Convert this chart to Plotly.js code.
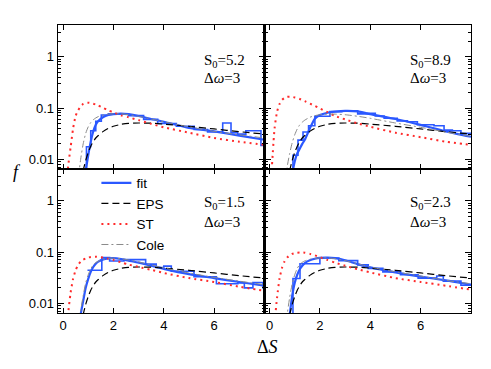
<!DOCTYPE html>
<html>
<head>
<meta charset="utf-8">
<script src="https://cdn.plot.ly/plotly-3.0.1.min.js"></script>
<style>html,body{margin:0;padding:0;background:#fff;}#chart{width:491px;height:369px;}</style>
</head>
<body>
<div id="chart"></div>
<script>
// ---- data ----
const dS = [0.1,0.2,0.3,0.4,0.5,0.6,0.7,0.8,0.9,1.0,1.1,1.2,1.3,1.4,1.6,1.8,2.0,2.3,2.6,3.0,3.5,4.0,5.0,6.0,7.0,8.0];

// EPS curve (same shape in every panel, Δω=3)
const epsVals = [0.0001,0.0001,0.0001,0.0001,0.0003,0.0014,0.0033,0.006,0.0095,0.0135,0.018,0.022,0.026,0.029,0.035,0.040,0.044,0.048,0.050,0.051,0.0505,0.0485,0.0440,0.0390,0.0345,0.0310];

// panel S0=5.2
const fitA  = [0.0001,0.0001,0.0001,0.0002,0.0004,0.0008,0.0015,0.003,0.006,0.012,0.022,0.035,0.047,0.056,0.067,0.073,0.076,0.078,0.076,0.070,0.061,0.054,0.041,0.035,0.029,0.024];
const stA   = [0.001,0.007,0.017,0.040,0.070,0.090,0.108,0.120,0.126,0.127,0.125,0.121,0.117,0.112,0.100,0.090,0.082,0.072,0.066,0.058,0.049,0.042,0.033,0.026,0.022,0.019];
const coleA = [0.0001,0.0001,0.0001,0.0002,0.0006,0.004,0.010,0.020,0.032,0.043,0.052,0.059,0.064,0.068,0.073,0.076,0.077,0.077,0.074,0.069,0.061,0.054,0.043,0.035,0.030,0.026];
const histEdgesA = [0.93,0.93,1.10,1.30,1.52,1.80,2.60,3.20,3.76,4.50,5.21,5.74,6.34,6.67,6.93,7.26,7.86,8.0];
const histValsA  = [0.001,0.0176,0.036,0.055,0.073,0.077,0.071,0.060,0.050,0.044,0.038,0.034,0.051,0.033,0.031,0.036,0.0185,0.0185];

// panel S0=8.9
const fitB  = [0.0001,0.0001,0.0001,0.0001,0.0002,0.0004,0.0009,0.002,0.005,0.009,0.013,0.016,0.020,0.024,0.040,0.062,0.073,0.081,0.085,0.088,0.086,0.076,0.061,0.047,0.035,0.0275];
const stB   = [0.008,0.040,0.085,0.120,0.145,0.158,0.165,0.166,0.165,0.161,0.157,0.150,0.143,0.136,0.122,0.110,0.098,0.083,0.070,0.060,0.050,0.043,0.033,0.027,0.022,0.019];
const coleB = [0.0001,0.0001,0.0001,0.0001,0.0003,0.002,0.007,0.013,0.021,0.030,0.039,0.047,0.053,0.058,0.066,0.071,0.074,0.076,0.076,0.074,0.069,0.063,0.051,0.042,0.034,0.028];
const histEdgesB = [0.93,0.93,1.13,1.33,1.55,1.80,2.40,2.87,3.50,3.90,4.20,4.55,5.07,5.47,5.87,6.53,6.93,7.26,7.60,8.0];
const histValsB  = [0.001,0.012,0.0236,0.034,0.045,0.069,0.085,0.088,0.077,0.079,0.070,0.063,0.056,0.054,0.047,0.045,0.037,0.036,0.032,0.032];

// panel S0=1.5
const fitC  = [0.0001,0.0001,0.0001,0.0002,0.0006,0.0015,0.006,0.011,0.020,0.030,0.041,0.051,0.059,0.065,0.072,0.075,0.076,0.073,0.068,0.062,0.054,0.047,0.037,0.031,0.026,0.022];
const stC   = [0.0005,0.006,0.016,0.030,0.044,0.056,0.065,0.071,0.075,0.078,0.080,0.081,0.081,0.080,0.078,0.074,0.070,0.063,0.057,0.051,0.045,0.039,0.031,0.026,0.021,0.0175];
const coleC = [0.0001,0.0001,0.0001,0.0002,0.0006,0.002,0.007,0.014,0.025,0.036,0.047,0.056,0.062,0.066,0.072,0.075,0.076,0.074,0.070,0.064,0.056,0.049,0.039,0.032,0.027,0.023];
const histEdgesC = [0.97,1.54,1.85,2.42,3.28,3.70,4.00,4.30,5.20,6.09,6.94,7.20,7.54,7.94,8.0];
const histValsC  = [0.044,0.078,0.067,0.071,0.058,0.050,0.053,0.042,0.033,0.024,0.025,0.020,0.0255,0.020,0.020];

// panel S0=2.3
const fitD  = [0.0001,0.0001,0.0001,0.0002,0.0005,0.0012,0.003,0.006,0.014,0.025,0.036,0.046,0.054,0.061,0.069,0.074,0.077,0.078,0.076,0.069,0.058,0.050,0.040,0.033,0.028,0.023];
const stD   = [0.0005,0.004,0.013,0.031,0.050,0.066,0.078,0.086,0.092,0.095,0.097,0.098,0.098,0.097,0.092,0.086,0.079,0.070,0.062,0.054,0.046,0.040,0.031,0.026,0.022,0.0184];
const coleD = [0.0001,0.0001,0.0001,0.0002,0.0006,0.002,0.006,0.013,0.024,0.036,0.048,0.057,0.063,0.067,0.072,0.075,0.077,0.077,0.074,0.068,0.059,0.051,0.041,0.034,0.028,0.024];
const histEdgesD = [0.93,0.93,1.21,2.00,2.75,3.50,3.92,4.50,5.20,5.90,6.64,6.90,7.60,8.0];
const histValsD  = [0.001,0.0305,0.059,0.0766,0.068,0.056,0.048,0.041,0.036,0.031,0.034,0.027,0.0225,0.0225];

const panelLabels = ['S<sub>0</sub>=5.2','S<sub>0</sub>=8.9','S<sub>0</sub>=1.5','S<sub>0</sub>=2.3'];
const dwLabel = 'Δ<i>ω</i>=3';
const yTickVals = [0.01,0.1,1];
const yTickText = ['0.01','0.1','1'];
const xTickVals = [0,2,4,6];

// ---- styles ----
const BLUE = '#2b58ff';
const panels = [
  {fit:fitA, st:stA, cole:coleA, he:histEdgesA, hv:histValsA, xa:'x',  ya:'y'},
  {fit:fitB, st:stB, cole:coleB, he:histEdgesB, hv:histValsB, xa:'x2', ya:'y2'},
  {fit:fitC, st:stC, cole:coleC, he:histEdgesC, hv:histValsC, xa:'x3', ya:'y3'},
  {fit:fitD, st:stD, cole:coleD, he:histEdgesD, hv:histValsD, xa:'x4', ya:'y4'}
];

const traces = [];
panels.forEach((p, i) => {
  const leg = (i === 0);
  traces.push({x: p.he, y: p.hv, xaxis: p.xa, yaxis: p.ya, mode: 'lines', line: {color: BLUE, width: 1.6, shape: 'hv'}, showlegend: false, hoverinfo: 'skip'});
  traces.push({x: dS, y: p.fit, xaxis: p.xa, yaxis: p.ya, mode: 'lines', name: 'fit', line: {color: BLUE, width: 2.2, shape: 'spline', smoothing: 0.6}, showlegend: leg});
  traces.push({x: dS, y: epsVals, xaxis: p.xa, yaxis: p.ya, mode: 'lines', name: 'EPS', line: {color: '#000', width: 1.2, dash: '7px,4px', shape: 'spline', smoothing: 0.6}, showlegend: leg});
  traces.push({x: dS, y: p.st, xaxis: p.xa, yaxis: p.ya, mode: 'lines', name: 'ST', line: {color: '#ff2a2a', width: 2, dash: '2px,4px', shape: 'spline', smoothing: 0.6}, showlegend: leg});
  traces.push({x: dS, y: p.cole, xaxis: p.xa, yaxis: p.ya, mode: 'lines', name: 'Cole', line: {color: '#8a8a8a', width: 1, dash: '7px,3px,2px,3px', shape: 'spline', smoothing: 0.6}, showlegend: leg});
});

const tickFont = {family: 'Liberation Sans, Arial, sans-serif', size: 13, color: '#000'};
function xAxis(dom, anchor, labels) {
  return {domain: dom, anchor: anchor, range: [-0.2, 8], tickmode: 'array', tickvals: xTickVals,
    showticklabels: labels, ticks: 'inside', ticklen: 5, tickwidth: 1, tickcolor: '#000',
    showline: true, linecolor: '#000', linewidth: 1.3, mirror: 'ticks', showgrid: false, zeroline: false, tickfont: tickFont};
}
function yAxis(dom, anchor, labels) {
  return {domain: dom, anchor: anchor, type: 'log', range: [-2.19, 0.62], tickmode: 'array', tickvals: yTickVals, ticktext: yTickText,
    showticklabels: labels, ticks: 'inside', ticklen: 6, tickwidth: 1, tickcolor: '#000',
    minor: {ticks: 'inside', ticklen: 3, dtick: 'D1', tickcolor: '#000', showgrid: false},
    showline: true, linecolor: '#000', linewidth: 1.3, mirror: 'ticks', showgrid: false, zeroline: false, tickfont: tickFont};
}

const serif = {family: 'Liberation Serif, Times New Roman, serif', size: 15, color: '#000'};
const annotations = [];
const annY = [[0.876, 0.817], [0.876, 0.817], [0.383, 0.317], [0.383, 0.317]];
panels.forEach((p, i) => {
  annotations.push({xref: p.xa, yref: 'paper', x: 5.5, y: annY[i][0], xanchor: 'left', yanchor: 'middle', text: panelLabels[i], showarrow: false, font: serif});
  annotations.push({xref: p.xa, yref: 'paper', x: 5.5, y: annY[i][1], xanchor: 'left', yanchor: 'middle', text: dwLabel, showarrow: false, font: serif});
});
annotations.push({xref: 'paper', yref: 'paper', x: -0.099, y: 0.49, xanchor: 'center', yanchor: 'middle', text: '<i>f</i>', showarrow: false, font: {family: 'Liberation Serif, serif', size: 18, color: '#000'}});
annotations.push({xref: 'paper', yref: 'paper', x: 0.508, y: -0.118, xanchor: 'center', yanchor: 'middle', text: 'Δ<i>S</i>', showarrow: false, font: {family: 'Liberation Serif, serif', size: 18, color: '#000'}});

const layout = {
  width: 491, height: 369,
  margin: {l: 58, r: 20, t: 25, b: 56, pad: 0},
  paper_bgcolor: '#fff', plot_bgcolor: 'rgba(0,0,0,0)',
  showlegend: true,
  legend: {x: 0.093, y: 0.505, xanchor: 'left', yanchor: 'top', bgcolor: 'rgba(0,0,0,0)', borderwidth: 0,
    font: {family: 'Liberation Sans, Arial, sans-serif', size: 13.5, color: '#000'}, tracegroupgap: 0, itemwidth: 30},
  xaxis: xAxis([0, 0.5], 'y', false),
  xaxis2: xAxis([0.5, 1], 'y2', false),
  xaxis3: xAxis([0, 0.5], 'y3', true),
  xaxis4: xAxis([0.5, 1], 'y4', true),
  yaxis: yAxis([0.5, 1], 'x', true),
  yaxis2: yAxis([0.5, 1], 'x2', false),
  yaxis3: yAxis([0, 0.5], 'x3', true),
  yaxis4: yAxis([0, 0.5], 'x4', false),
  annotations: annotations
};

Plotly.newPlot('chart', traces, layout, {staticPlot: true, displayModeBar: false});
</script>
</body>
</html>
